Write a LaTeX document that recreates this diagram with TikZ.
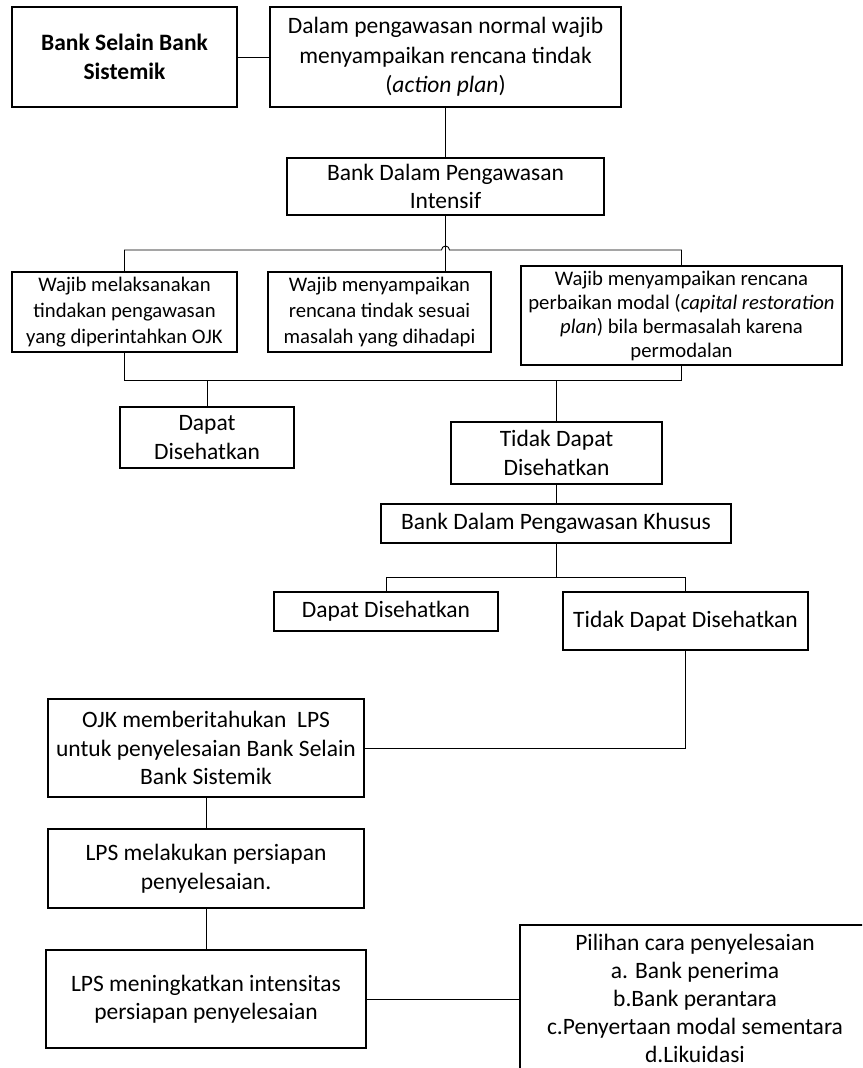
\documentclass[tikz,border=0pt]{standalone}
\usepackage{fontspec}
\setmainfont{Carlito}
\begin{document}
\begin{tikzpicture}[x=1pt,y=-1pt,
  bx/.style={draw, line width=1.4pt, inner sep=0pt, align=center,
    font=\fontsize{23.5}{28.5}\selectfont},
  sbx/.style={bx, font=\fontsize{20.7}{26}\selectfont},
  ln/.style={line width=0.9pt}]
\path[use as bounding box] (0,0) rectangle (862,1068);
\clip (0,0) rectangle (862,1068);
\node[bx, minimum width=225, minimum height=100, font=\fontsize{23.5}{28.5}\selectfont\bfseries] (A) at (124.5,57) {Bank Selain Bank\\Sistemik};
\node[bx, minimum width=351, minimum height=100, font=\fontsize{23.5}{29.5}\selectfont] (B) at (445.5,57) {Dalam pengawasan normal wajib\\menyampaikan rencana tindak\\(\textit{action plan})};
\node[bx, minimum width=317, minimum height=57] (C) at (445.5,186.5) {Bank Dalam Pengawasan\\Intensif};
\node[sbx, minimum width=225, minimum height=80] (D1) at (124.5,312) {Wajib melaksanakan\\tindakan pengawasan\\yang diperintahkan OJK};
\node[sbx, minimum width=223, minimum height=80] (D2) at (379.5,312) {Wajib menyampaikan\\rencana tindak sesuai\\masalah yang dihadapi};
\node[sbx, minimum width=321, minimum height=99, font=\fontsize{20.7}{24}\selectfont] (D3) at (681.5,315.5) {Wajib menyampaikan rencana\\perbaikan modal (\textit{capital restoration}\\\textit{plan}) bila bermasalah karena\\permodalan};
\node[bx, minimum width=174, minimum height=61] (E1) at (207,437.5) {Dapat\\Disehatkan};
\node[bx, minimum width=211, minimum height=62] (E2) at (556.5,453) {Tidak Dapat\\Disehatkan};
\node[bx, minimum width=350, minimum height=39] (F) at (556,523.5) {Bank Dalam Pengawasan Khusus};
\node[bx, minimum width=224, minimum height=39] (G1) at (386,611.5) {Dapat Disehatkan};
\node[bx, minimum width=245, minimum height=58] (G2) at (685.5,621) {Tidak Dapat Disehatkan};
\node[bx, minimum width=316, minimum height=98] (H) at (206,748) {OJK memberitahukan\ \ LPS\\untuk penyelesaian Bank Selain\\Bank Sistemik};
\node[bx, minimum width=316, minimum height=79] (I) at (206,868.5) {LPS melakukan persiapan\\penyelesaian.};
\node[bx, minimum width=320, minimum height=98] (J) at (206,999) {LPS meningkatkan intensitas\\persiapan penyelesaian};
\node[bx, minimum width=350, minimum height=146, font=\fontsize{23.5}{28}\selectfont] (K) at (695,998) {Pilihan cara penyelesaian\\a. Bank penerima\\b.Bank perantara\\c.Penyertaan modal sementara\\d.Likuidasi};
% connectors
\coordinate (bus1L) at (124.5,250);
\coordinate (bus1R) at (681.5,250);
\coordinate (bus2L) at (124.5,380);
\coordinate (bus2R) at (681.5,380);
\coordinate (bus3) at (556,577);
\coordinate (bend) at (685.5,748);
\draw[ln] (A.east) -- (B.west);
\draw[ln] (B.south) -- (C.north);
\draw[ln] (C.south) -- (C.south |- D2.north);
\draw[ln] (D1.north) -- (bus1L) -- ([xshift=-4pt]C.south |- bus1L) arc[start angle=180, end angle=0, radius=4pt] -- (bus1R) -- (D3.north);
\draw[ln] (D1.south) -- (bus2L) -- (bus2R) -- (D3.south);
\draw[ln] (E1.north) -- (E1.north |- bus2L);
\draw[ln] (E2.north) -- (E2.north |- bus2L);
\draw[ln] (E2.south) -- (E2.south -| F.north) -- (F.north);
\draw[ln] (F.south) -- (bus3);
\draw[ln] (G1.north) -- (G1.north |- bus3) -- (G2.north |- bus3) -- (G2.north);
\draw[ln] (G2.south) -- (bend) -- (H.east);
\draw[ln] (H.south) -- (I.north);
\draw[ln] (I.south) -- (J.north);
\draw[ln] (J.east) -- (J.east -| K.west);
\end{tikzpicture}
\end{document}
